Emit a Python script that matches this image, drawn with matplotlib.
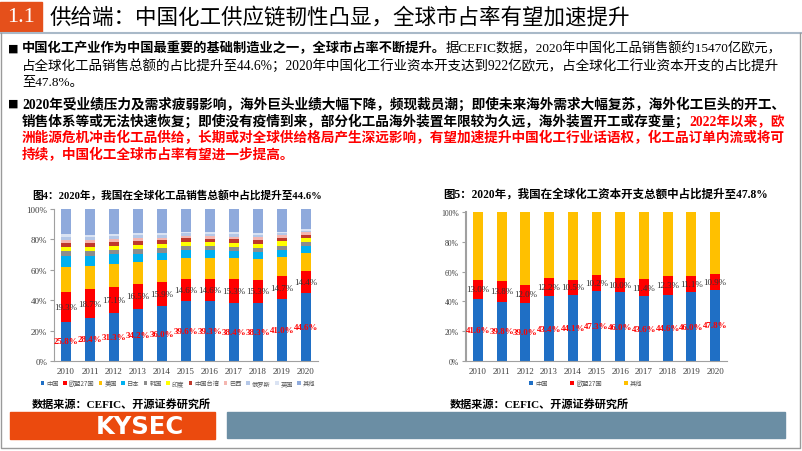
import matplotlib
matplotlib.use('Agg')
import matplotlib.pyplot as plt
from matplotlib.patches import Rectangle
from matplotlib.font_manager import FontProperties
import numpy as np

plt.rcParams['font.family'] = ['Liberation Serif', 'Noto Sans CJK SC', 'DejaVu Sans']

# ---- data: chemical sales share (%) ----
years = ['2010', '2011', '2012', '2013', '2014', '2015', '2016', '2017', '2018', '2019', '2020']
sales_names = ['中国', '欧盟27国', '美国', '日本', '韩国', '印度', '中国台湾', '巴西', '俄罗斯', '英国', '其他']
sales_china = [25.8, 28.4, 31.3, 34.2, 36.0, 39.6, 39.3, 38.4, 38.3, 41.0, 44.6]
sales_eu = [19.3, 18.7, 17.1, 16.5, 15.9, 14.6, 14.6, 15.3, 15.3, 14.7, 14.4]
sales_us = [16.9, 15.1, 15.2, 14.5, 14.3, 13.6, 13.9, 13.8, 13.4, 12.8, 12.0]
sales_japan = [7.0, 6.9, 6.5, 5.5, 5.0, 5.1, 5.0, 4.8, 4.6, 4.6, 4.9]
sales_korea = [3.3, 3.3, 3.2, 3.1, 3.0, 2.6, 2.7, 2.8, 2.8, 2.6, 2.2]
sales_india = [2.4, 2.3, 2.4, 2.5, 2.6, 2.9, 2.8, 2.8, 2.9, 3.0, 2.6]
sales_taiwan = [3.1, 2.9, 2.7, 2.6, 2.5, 2.2, 2.2, 2.3, 2.3, 2.2, 2.2]
sales_brazil = [1.8, 1.8, 1.8, 1.8, 1.8, 1.7, 1.7, 1.7, 1.7, 1.7, 1.7]
sales_russia = [2.2, 2.2, 2.0, 1.9, 1.8, 1.6, 1.6, 1.6, 1.5, 1.4, 1.1]
sales_uk = [1.5, 1.5, 1.4, 1.3, 1.2, 1.1, 1.1, 1.1, 1.1, 1.1, 1.1]
sales_other = [16.7, 16.9, 16.4, 16.1, 15.9, 15.0, 15.1, 15.4, 16.1, 14.9, 13.2]

# ---- data: capex share (%) ----
capex_names = ['中国', '欧盟27国', '其他']
capex_china = [41.6, 39.8, 39.0, 43.4, 44.1, 47.3, 46.0, 43.6, 44.6, 46.0, 47.8]
capex_eu = [13.0, 13.8, 12.0, 12.2, 10.5, 10.2, 10.0, 11.4, 12.3, 11.1, 10.9]
capex_other = [45.4, 46.4, 49.0, 44.4, 45.4, 42.5, 44.0, 45.0, 43.1, 42.9, 41.3]

sales_colors = ['#1f6fc5', '#ff0000', '#ffc000', '#00b0f0', '#8c8c8c', '#ffff00',
                '#c0392b', '#f4b6b0', '#b4c7e7', '#dae3f3', '#8faadc']
capex_colors = ['#1f6fc5', '#ff0000', '#ffc000']

fig = plt.figure(figsize=(8.02, 4.52), dpi=100)
bg = fig.add_axes([0, 0, 1, 1], zorder=0)
bg.set_xlim(0, 802)
bg.set_ylim(452, 0)
bg.axis('off')

# header
bg.add_patch(Rectangle((0, 3), 42, 30, color='#e5501b'))
bg.text(21, 18, '1.1', color='white', fontsize=16, ha='center', va='center',
        family='Liberation Serif')
bg.text(50, 18, '供给端：中国化工供应链韧性凸显，全球市占率有望加速提升', fontsize=15.5,
        va='center', family=['Noto Sans CJK SC'])
bg.plot([0, 802], [34, 34], color='#a9b9c8', lw=1.5)
bg.plot([1, 1, 800, 800], [34, 449, 449, 34], color='#9a9a9a', lw=1)

renderer = fig.canvas.get_renderer()
BODY = ['Liberation Serif', 'Noto Sans CJK SC']


def draw_line(x, y, segments, size=9.5, end=None):
    # first pass: measure, then rescale so justified lines reach `end`
    if end is not None:
        w = 0
        for txt, color, weight in segments:
            t = bg.text(0, 0, txt, fontsize=size, fontweight=weight, family=BODY)
            w += t.get_window_extent(renderer).width
            t.remove()
        size = size * (end - x) / w
    for txt, color, weight in segments:
        t = bg.text(x, y, txt, color=color, fontweight=weight, fontsize=size, va='center',
                    family=BODY)
        x += t.get_window_extent(renderer).width
    return size


RED = '#ff0000'
bg.text(8, 49, '■', fontsize=8, va='center', family=['DejaVu Sans'])
s = draw_line(22, 49, [('中国化工产业作为中国最重要的基础制造业之一，全球市占率不断提升。', 'black', 'bold'),
                       ('据CEFIC数据，2020年中国化工品销售额约15470亿欧元，', 'black', 'normal')], end=784)
draw_line(22, 66, [('占全球化工品销售总额的占比提升至44.6%；2020年中国化工行业资本开支达到922亿欧元，占全球化工行业资本开支的占比提升', 'black', 'normal')], end=784)
draw_line(22, 83, [('至47.8%。', 'black', 'normal')], size=s)

bg.text(8, 104, '■', fontsize=8, va='center', family=['DejaVu Sans'])
s = draw_line(22, 104, [('2020年受业绩压力及需求疲弱影响，海外巨头业绩大幅下降，频现裁员潮；即使未来海外需求大幅复苏，海外化工巨头的开工、', 'black', 'bold')], end=792)
draw_line(22, 121, [('销售体系等或无法快速恢复；即使没有疫情到来，部分化工品海外装置年限较为久远，海外装置开工或存变量；', 'black', 'bold'),
                    ('2022年以来，欧', RED, 'bold')], end=790)
draw_line(22, 138, [('洲能源危机冲击化工品供给，长期或对全球供给格局产生深远影响，有望加速提升中国化工行业话语权，化工品订单内流或将可', RED, 'bold')], end=790)
draw_line(22, 155, [('持续，中国化工全球市占率有望进一步提高。', RED, 'bold')], size=s)

# chart titles and sources
bg.text(32, 195, '图4：2020年，我国在全球化工品销售总额中占比提升至44.6%', fontsize=7.7,
        fontweight='bold', va='center')
bg.text(443, 195, '图5：2020年，我国在全球化工资本开支总额中占比提升至47.8%', fontsize=8.3,
        fontweight='bold', va='center')
bg.text(32, 404, '数据来源：CEFIC、开源证券研究所', fontsize=8.0, fontweight='bold', va='center')
bg.text(450, 404, '数据来源：CEFIC、开源证券研究所', fontsize=8.0, fontweight='bold', va='center')

# footer bars
bg.add_patch(Rectangle((10, 413), 205, 27, color='#eb4a0e'))
bg.add_patch(Rectangle((227, 413), 558, 26, color='#6b8ea4'))
bg.text(140, 427, 'KYSEC', color='white', fontsize=17.5, fontweight='bold', ha='center',
        va='center', family=['DejaVu Sans'])

x = np.arange(len(years))


def style_axes(ax):
    ax.set_xlim(-0.5, 10.5)
    ax.set_ylim(0, 100)
    ax.set_yticks(range(0, 101, 20))
    ax.set_yticklabels([f'{v}%' for v in range(0, 101, 20)])
    ax.set_xticks(x)
    ax.set_xticklabels(years)
    for s in ['top', 'right']:
        ax.spines[s].set_visible(False)
    ax.spines['left'].set_color('#a0a0a0')
    ax.spines['bottom'].set_color('#a0a0a0')
    ax.tick_params(axis='y', labelsize=6.5, length=3, color='#a0a0a0', labelcolor='#404040', pad=2)
    ax.tick_params(axis='x', labelsize=6.5, length=0, labelcolor='#404040', pad=4)
    ax.patch.set_alpha(0)


# left chart
ax1 = fig.add_axes([54 / 802, 1 - 362 / 452, 264 / 802, 152 / 452], zorder=2)
sales = [sales_china, sales_eu, sales_us, sales_japan, sales_korea, sales_india,
         sales_taiwan, sales_brazil, sales_russia, sales_uk, sales_other]
bottom = np.zeros(len(years))
handles = []
for vals, name, col in zip(sales, sales_names, sales_colors):
    b = ax1.bar(x, vals, 0.42, bottom=bottom, color=col, label=name)
    handles.append(b)
    bottom += np.array(vals)
for i in range(len(years)):
    ax1.text(i, sales_china[i] / 2, f'{sales_china[i]:.1f}%', ha='center', va='center',
             color='red', fontweight='bold', fontsize=6.5)
    ax1.text(i, sales_china[i] + sales_eu[i] / 2, f'{sales_eu[i]:.1f}%', ha='center',
             va='center', color='#333333', fontsize=6.5)
style_axes(ax1)
fig.legend(handles=handles, labels=sales_names, loc='center', bbox_to_anchor=(178 / 802, 1 - 384 / 452),
           ncol=11, frameon=False, prop=FontProperties(family=['Noto Sans CJK SC'], size=4.5),
           handlelength=0.6, handleheight=0.6, handletextpad=0.3, columnspacing=0.7,
           labelcolor='#555555')

# right chart
ax2 = fig.add_axes([466 / 802, 1 - 362 / 452, 261 / 802, 149 / 452], zorder=2)
capex = [capex_china, capex_eu, capex_other]
bottom = np.zeros(len(years))
handles2 = []
for vals, name, col in zip(capex, capex_names, capex_colors):
    b = ax2.bar(x, vals, 0.42, bottom=bottom, color=col, label=name)
    handles2.append(b)
    bottom += np.array(vals)
for i in range(len(years)):
    ax2.text(i, capex_china[i] / 2, f'{capex_china[i]:.1f}%', ha='center', va='center',
             color='red', fontweight='bold', fontsize=6.5)
    ax2.text(i, capex_china[i] + capex_eu[i] / 2, f'{capex_eu[i]:.1f}%', ha='center',
             va='center', color='#333333', fontsize=6.5)
style_axes(ax2)
ax2.tick_params(axis='y', labelsize=5.5)
ax2.spines['left'].set_linewidth(1.5)
fig.legend(handles=handles2, labels=capex_names, loc='center', bbox_to_anchor=(586 / 802, 1 - 384 / 452),
           ncol=3, frameon=False, prop=FontProperties(family=['Noto Sans CJK SC'], size=4.5),
           handlelength=0.6, handleheight=0.6, handletextpad=0.4, columnspacing=3.5,
           labelcolor='#555555')

fig.savefig('out.png', dpi=100)
